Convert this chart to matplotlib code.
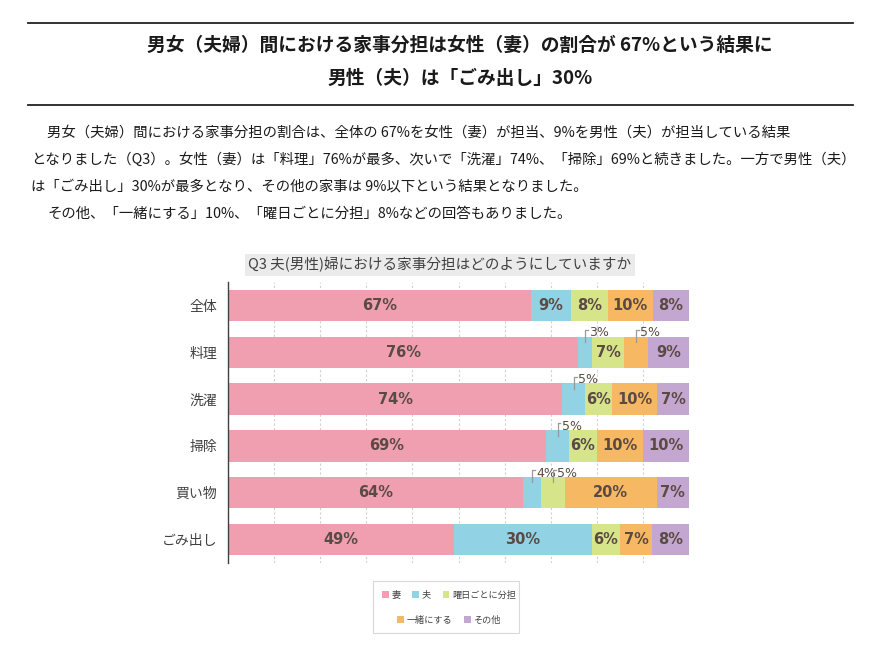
import numpy as np
import matplotlib.pyplot as plt
from matplotlib.lines import Line2D
from matplotlib.patches import Patch, Rectangle
from matplotlib import font_manager

plt.rcParams['font.family'] = ['Noto Sans CJK JP', 'DejaVu Sans']

# data
categories = ["全体", "料理", "洗濯", "掃除", "買い物", "ごみ出し"]
series = ["妻", "夫", "曜日ごとに分担", "一緒にする", "その他"]
values = np.array([
    [67, 9, 8, 10, 8],
    [76, 3, 7, 5, 9],
    [74, 5, 6, 10, 7],
    [69, 5, 6, 10, 10],
    [64, 4, 5, 20, 7],
    [49, 30, 6, 7, 8],
])
colors = ["#f09fb1", "#92d2e5", "#d6e58a", "#f7b863", "#c4a7d1"]

title_lines = ["男女（夫婦）間における家事分担は女性（妻）の割合が 67%という結果に",
               "男性（夫）は「ごみ出し」30%"]
body_lines = [
    "男女（夫婦）間における家事分担の割合は、全体の 67%を女性（妻）が担当、9%を男性（夫）が担当している結果",
    "となりました（Q3）。女性（妻）は「料理」76%が最多、次いで「洗濯」74%、「掃除」69%と続きました。一方で男性（夫）",
    "は「ごみ出し」30%が最多となり、その他の家事は 9%以下という結果となりました。",
    "その他、「一緒にする」10%、「曜日ごとに分担」8%などの回答もありました。",
]
chart_title = "Q3 夫(男性)婦における家事分担はどのようにしていますか"

# narrow font for the small callout labels, if present
installed = {f.name for f in font_manager.fontManager.ttflist}
callout_font = "Liberation Sans Narrow" if "Liberation Sans Narrow" in installed else "DejaVu Sans"
callout_size = 10.5 if callout_font != "DejaVu Sans" else 9

W, H = 896, 651
fig = plt.figure(figsize=(W / 100, H / 100), dpi=100)

def fx(x):
    return x / W

def fy(y):
    return 1 - y / H

# header rules and title
for y in (23, 105):
    fig.add_artist(Line2D([fx(28), fx(853)], [fy(y), fy(y)], color="#222222", lw=1.3))
fig.text(fx(460), fy(45), title_lines[0], ha="center", va="center",
         fontsize=13.5, fontweight="bold", color="#1a1a1a")
fig.text(fx(460), fy(78), title_lines[1], ha="center", va="center",
         fontsize=13.5, fontweight="bold", color="#1a1a1a")

# body text
body_x = [47, 31, 31, 47]
body_y = [133, 160, 187, 214]
for t, x, y in zip(body_lines, body_x, body_y):
    fig.text(fx(x), fy(y), t, ha="left", va="center", fontsize=10.35, color="#1a1a1a")

# chart
ax = fig.add_axes([fx(228), fy(563), fx(689) - fx(228), (563 - 282) / H])
pct = values / values.sum(axis=1, keepdims=True) * 100
ypos = np.arange(len(categories))
left = np.zeros(len(categories))
txt_col = "#5a4a44"
for j, name in enumerate(series):
    w = pct[:, j]
    ax.barh(ypos, w, left=left, height=0.67, color=colors[j], label=name, zorder=2)
    for i in range(len(categories)):
        cx = left[i] + w[i] / 2
        v = values[i, j]
        if v > 5:
            ax.text(cx, ypos[i], f"{v}%", ha="center", va="center", fontsize=10.5,
                    fontweight="bold", color=txt_col, family="DejaVu Sans", zorder=3)
        else:
            y0 = ypos[i] - 0.22
            y1 = ypos[i] - 0.48
            ax.plot([cx, cx, cx + 0.6], [y0, y1, y1], color="#999999", lw=0.9,
                    zorder=3, clip_on=False)
            ax.text(cx + 0.9, ypos[i] - 0.42, f"{v}%", ha="left", va="center",
                    fontsize=callout_size, color=txt_col, family=callout_font, zorder=3)
    left += w

ax.set_xlim(0, 100)
ax.set_ylim(len(categories) - 0.5, -0.5)
ax.set_xticks(np.arange(10, 101, 10))
ax.xaxis.grid(True, color="#d0d0d0", linestyle=(0, (2, 2)), lw=0.8, zorder=0)
ax.tick_params(axis="x", length=0, labelbottom=False)
ax.set_yticks(ypos)
ax.set_yticklabels(categories, fontsize=10, color="#404040")
ax.tick_params(axis="y", length=0, pad=8)
for s in ("top", "right", "bottom"):
    ax.spines[s].set_visible(False)
ax.spines["left"].set_color("#404040")
ax.spines["left"].set_linewidth(1.0)

fig.text(fx(440), fy(265), chart_title, ha="center", va="center", fontsize=10.5,
         color="#404040",
         bbox=dict(boxstyle="square,pad=0.25", facecolor="#ebebeb", edgecolor="none"))

# legend
fig.add_artist(Rectangle((fx(373), fy(633)), fx(519) - fx(373), (633 - 581) / H,
                         transform=fig.transFigure, facecolor="white",
                         edgecolor="#d9d9d9", lw=0.8))
handles = [Patch(facecolor=c, edgecolor="none", label=s) for c, s in zip(colors, series)]
leg_kw = dict(frameon=False, fontsize=6.6, handlelength=0.7, handleheight=0.7,
              handletextpad=0.3, columnspacing=1.3, borderpad=0, labelcolor="#404040")
leg1 = fig.legend(handles=handles[:3], ncol=3, loc="center",
                  bbox_to_anchor=(fx(449), fy(595)), **leg_kw)
leg2 = fig.legend(handles=handles[3:], ncol=2, loc="center",
                  bbox_to_anchor=(fx(449), fy(620)), **leg_kw)

fig.savefig("out.png", dpi=100, facecolor="white")
